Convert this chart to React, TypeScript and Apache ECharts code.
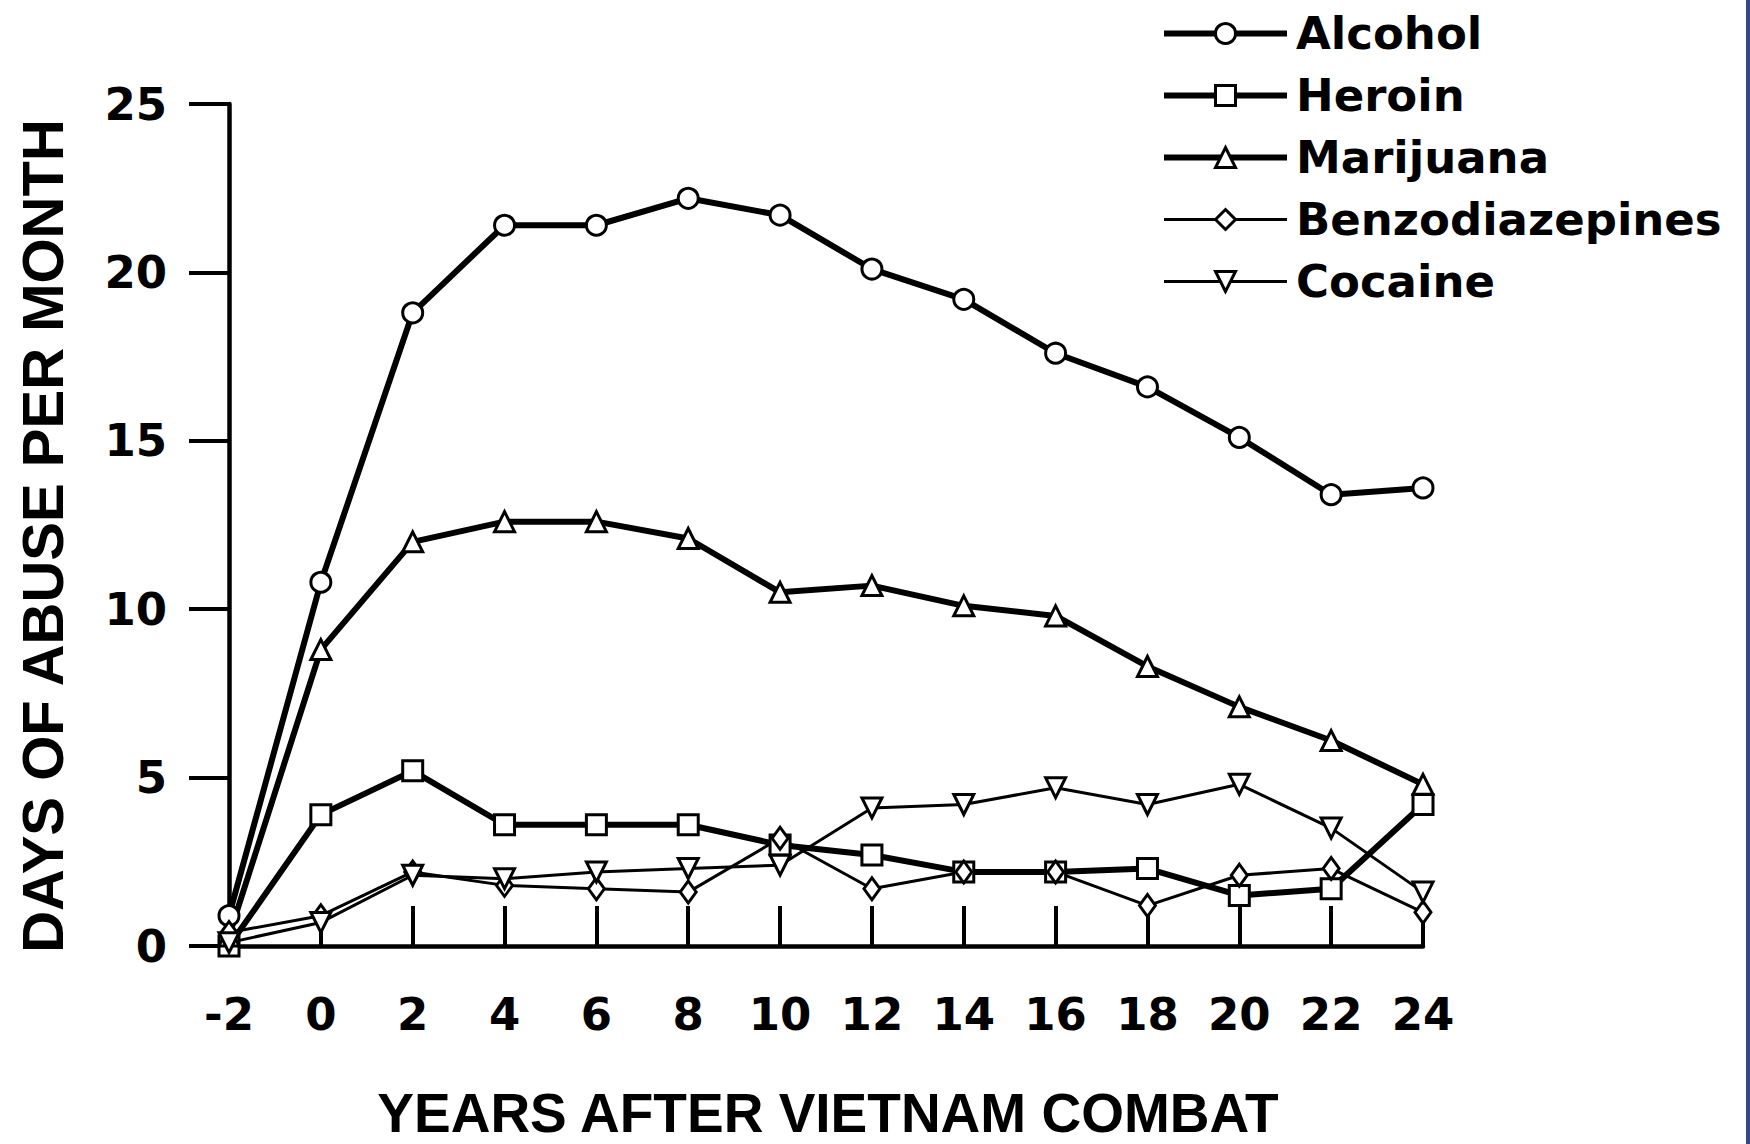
import React, { useEffect, useRef } from "react";
import * as echarts from "echarts";

const years = [-2, 0, 2, 4, 6, 8, 10, 12, 14, 16, 18, 20, 22, 24];
const alcohol = [0.9, 10.8, 18.8, 21.4, 21.4, 22.2, 21.7, 20.1, 19.2, 17.6, 16.6, 15.1, 13.4, 13.6];
const heroin = [0.0, 3.9, 5.2, 3.6, 3.6, 3.6, 3.0, 2.7, 2.2, 2.2, 2.3, 1.5, 1.7, 4.2];
const marijuana = [0.3, 8.8, 12.0, 12.6, 12.6, 12.1, 10.5, 10.7, 10.1, 9.8, 8.3, 7.1, 6.1, 4.8];
const benzodiazepines = [0.4, 0.9, 2.2, 1.8, 1.7, 1.6, 3.2, 1.7, 2.2, 2.2, 1.2, 2.1, 2.3, 1.0];
const cocaine = [0.1, 0.7, 2.1, 2.0, 2.2, 2.3, 2.4, 4.1, 4.2, 4.7, 4.2, 4.8, 3.5, 1.6];

const seriesNames = ["Alcohol", "Heroin", "Marijuana", "Benzodiazepines", "Cocaine"];
const lineWidths = [6, 6, 6, 3, 3];
const xTitle = "YEARS AFTER VIETNAM COMBAT";
const yTitle = "DAYS OF ABUSE PER MONTH";

const pair = (vals: number[]) => years.map((y, i) => [y, vals[i]]);

export default function App() {
  const ref = useRef<HTMLDivElement>(null);
  useEffect(() => {
    document.body.style.margin = "0";
    const chart = echarts.init(ref.current!, null, { renderer: "svg" });
    const mk = (
      idx: number,
      vals: number[],
      symbol: string,
      size: number | number[],
      rotate = 0
    ) => ({
      name: seriesNames[idx],
      type: "line",
      data: pair(vals),
      symbol,
      symbolSize: size,
      symbolRotate: rotate,
      showAllSymbol: true,
      lineStyle: { color: "#000", width: lineWidths[idx] },
      itemStyle: { color: "#fff", borderColor: "#000", borderWidth: 3, opacity: 1 },
      emphasis: { disabled: true },
    });
    chart.setOption({
      animation: false,
      backgroundColor: "#fff",
      grid: { left: 229, right: 327, top: 104, bottom: 198, containLabel: false },
      legend: {
        orient: "vertical",
        left: 1161,
        top: 11,
        padding: 0,
        itemWidth: 123,
        itemHeight: 25,
        itemGap: 17,
        data: seriesNames.map((n, i) => ({
          name: n,
          lineStyle: { color: "#000", width: lineWidths[i] },
          itemStyle: { color: "#fff", borderColor: "#000", borderWidth: 3 },
        })),
        textStyle: {
          fontFamily: "DejaVu Sans",
          fontWeight: "bold",
          fontSize: 45,
          lineHeight: 44,
          color: "#000",
          padding: [0, 0, 0, 4],
        },
      },
      xAxis: {
        type: "value",
        min: -2,
        max: 24,
        interval: 2,
        axisLine: { onZero: false, lineStyle: { color: "#000", width: 4.5 } },
        axisTick: { inside: true, length: 40, lineStyle: { color: "#000", width: 4 } },
        axisLabel: {
          margin: 46,
          color: "#000",
          fontFamily: "DejaVu Sans",
          fontWeight: "bold",
          fontSize: 45,
        },
        splitLine: { show: false },
      },
      yAxis: {
        type: "value",
        min: 0,
        max: 25,
        interval: 5,
        axisLine: { show: true, onZero: false, lineStyle: { color: "#000", width: 4.5 } },
        axisTick: { show: true, inside: false, length: 40, lineStyle: { color: "#000", width: 4 } },
        axisLabel: {
          margin: 62,
          color: "#000",
          fontFamily: "DejaVu Sans",
          fontWeight: "bold",
          fontSize: 45,
        },
        splitLine: { show: false },
      },
      graphic: [
        {
          type: "text",
          x: 42,
          y: 536,
          rotation: Math.PI / 2,
          style: {
            text: yTitle,
            fontFamily: "Liberation Sans",
            fontWeight: "bold",
            fontSize: 58,
            fill: "#000",
            align: "center",
            verticalAlign: "middle",
          },
        },
        {
          type: "text",
          x: 828,
          y: 1113,
          style: {
            text: xTitle,
            fontFamily: "Liberation Sans",
            fontWeight: "bold",
            fontSize: 55,
            lineHeight: 54,
            fill: "#000",
            align: "center",
            verticalAlign: "middle",
          },
        },
        {
          type: "rect",
          shape: { x: 1746, y: 0, width: 4, height: 1144 },
          style: { fill: "#34497d" },
        },
      ],
      series: [
        mk(0, alcohol, "circle", 20),
        mk(1, heroin, "rect", 20),
        mk(2, marijuana, "triangle", 20),
        mk(3, benzodiazepines, "diamond", [16, 22]),
        mk(4, cocaine, "triangle", 20, 180),
      ],
    });
    return () => chart.dispose();
  }, []);
  return (
    <div
      ref={ref}
      style={{ position: "fixed", left: 0, top: 0, width: 1750, height: 1144 }}
    />
  );
}
